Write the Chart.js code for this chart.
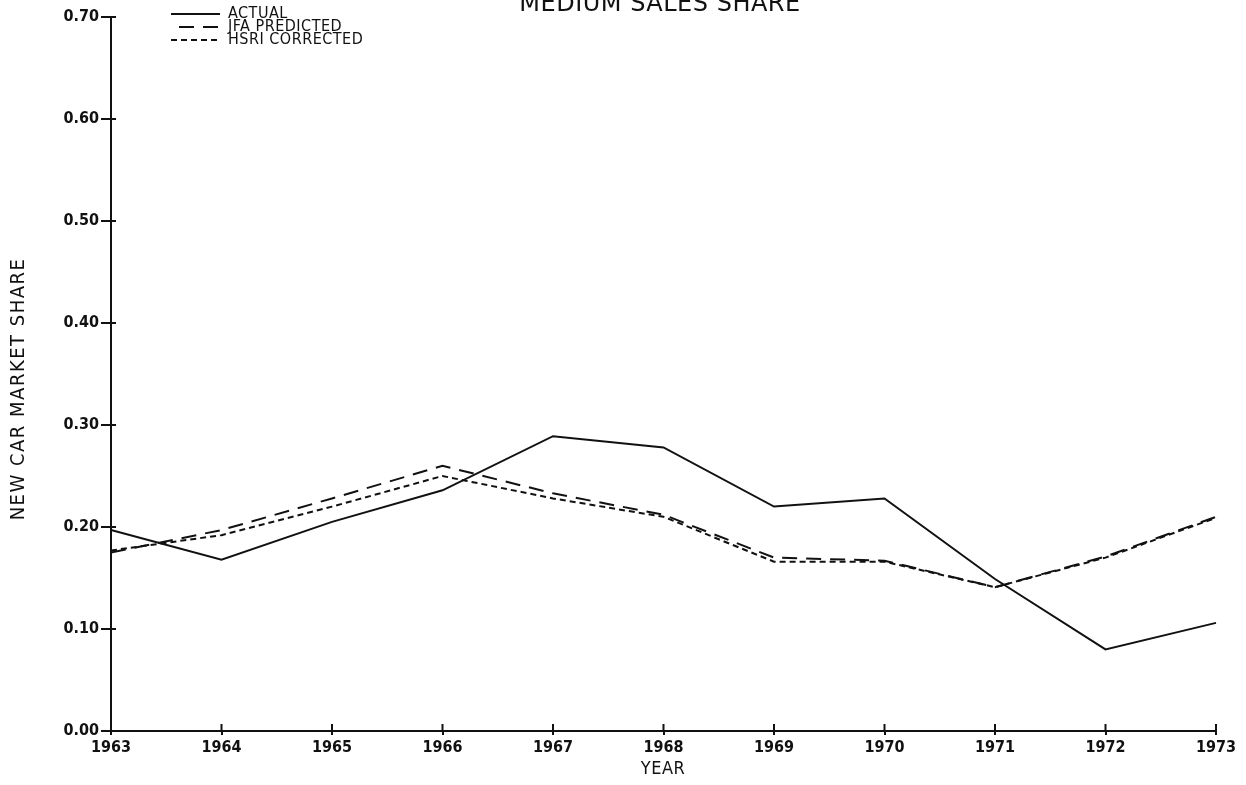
<!DOCTYPE html>
<html>
<head>
<meta charset="utf-8">
<script src="https://cdn.jsdelivr.net/npm/chart.js@4"></script>
<style>
  html, body { margin: 0; padding: 0; background: #fff; }
  canvas { display: block; }
</style>
</head>
<body>
<canvas id="chart" width="1246" height="785"></canvas>
<script>
// data
const years = ['1963', '1964', '1965', '1966', '1967', '1968', '1969', '1970', '1971', '1972', '1973'];
const actual = [0.197, 0.168, 0.205, 0.236, 0.289, 0.278, 0.220, 0.228, 0.149, 0.080, 0.106];
const jfaPredicted = [0.175, 0.197, 0.228, 0.260, 0.233, 0.212, 0.170, 0.167, 0.141, 0.171, 0.210];
const hsriCorrected = [0.177, 0.192, 0.220, 0.250, 0.228, 0.210, 0.166, 0.166, 0.141, 0.170, 0.209];
const yTicks = [0, 0.1, 0.2, 0.3, 0.4, 0.5, 0.6, 0.7];

const FONT = '"DejaVu Sans", sans-serif';
const NARROW = '"DejaVu Sans Condensed", "DejaVu Sans", sans-serif';
const INK = '#111';

// title (cut at the top edge), legend, axis titles, inner tick marks
const overlay = {
    id: 'overlay',
    afterDraw(chart) {
        const c = chart.ctx;
        c.save();
        c.fillStyle = INK;
        c.strokeStyle = INK;

        c.font = '24px ' + FONT;
        c.letterSpacing = '0.5px';
        c.textAlign = 'center';
        c.textBaseline = 'alphabetic';
        c.fillText('MEDIUM SALES SHARE', 660, 11);

        c.font = '16px ' + NARROW;
        c.letterSpacing = '0.5px';
        c.textAlign = 'left';
        c.textBaseline = 'middle';
        chart.data.datasets.forEach((ds, i) => {
            const y = 14 + i * 13;
            c.lineWidth = 2;
            c.setLineDash(ds.borderDash || []);
            c.beginPath();
            c.moveTo(i === 1 ? 179 : 171, y);
            c.lineTo(220, y);
            c.stroke();
            c.setLineDash([]);
            c.fillText(ds.label, 228, y);
        });

        // short inner halves of the tick marks
        const xs = chart.scales.x, ys = chart.scales.y;
        c.lineWidth = 2;
        xs.ticks.forEach((t, i) => {
            const px = xs.getPixelForTick(i);
            c.beginPath(); c.moveTo(px, xs.top); c.lineTo(px, xs.top - 7); c.stroke();
        });
        ys.ticks.forEach((t, i) => {
            const py = ys.getPixelForTick(i);
            c.beginPath(); c.moveTo(ys.right, py); c.lineTo(ys.right + 5, py); c.stroke();
        });

        c.font = '18px ' + NARROW;
        c.letterSpacing = '0.5px';
        c.textAlign = 'center';
        c.fillText('YEAR', 663, 769);
        c.font = '20px ' + NARROW;
        c.letterSpacing = '1.5px';
        c.translate(19, 389);
        c.rotate(-Math.PI / 2);
        c.fillText('NEW CAR MARKET SHARE', 0, 0);
        c.restore();
    }
};

new Chart(document.getElementById('chart'), {
    type: 'line',
    data: {
        labels: years,
        datasets: [
            { label: 'ACTUAL', data: actual, borderDash: [] },
            { label: 'JFA PREDICTED', data: jfaPredicted, borderDash: [15, 9] },
            { label: 'HSRI CORRECTED', data: hsriCorrected, borderDash: [6, 4] }
        ].map(d => Object.assign(d, {
            borderColor: INK, borderWidth: 2, pointRadius: 0, tension: 0, fill: false
        }))
    },
    options: {
        responsive: false,
        animation: false,
        layout: { padding: { top: 17, right: 30, left: 0, bottom: 0 } },
        plugins: { legend: { display: false }, tooltip: { enabled: false } },
        scales: {
            x: {
                offset: false,
                grid: { drawOnChartArea: false, drawTicks: true, tickLength: 4, color: INK, lineWidth: 2 },
                border: { color: INK, width: 2 },
                ticks: { color: INK, font: { family: NARROW, size: 16, weight: 'bold' }, padding: 3, maxRotation: 0 },
                afterFit: s => { s.height = 54; }
            },
            y: {
                min: 0,
                max: 0.7,
                afterBuildTicks: s => { s.ticks = yTicks.map(v => ({ value: v })); },
                grid: { drawOnChartArea: false, drawTicks: true, tickLength: 10, color: INK, lineWidth: 2 },
                border: { color: INK, width: 2 },
                ticks: { color: INK, font: { family: NARROW, size: 16, weight: 'bold' }, padding: 2, callback: v => v.toFixed(2) },
                afterFit: s => { s.width = 111; }
            }
        }
    },
    plugins: [overlay]
});
</script>
</body>
</html>
